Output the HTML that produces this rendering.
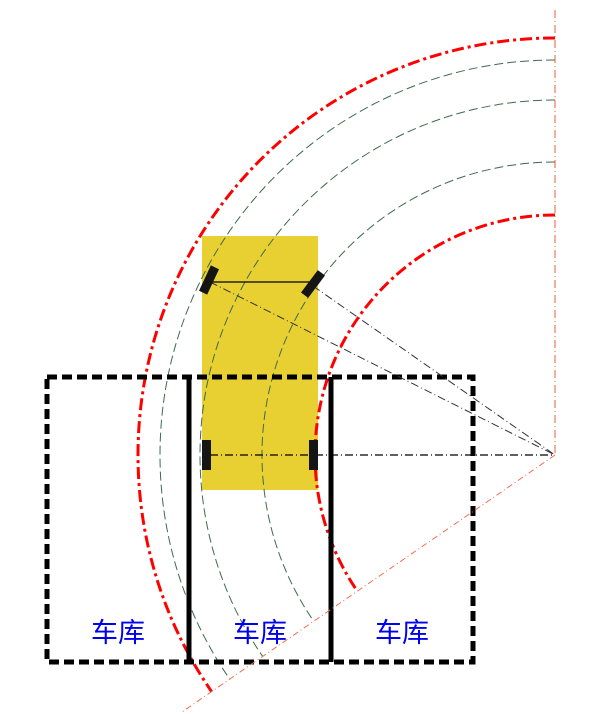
<!DOCTYPE html>
<html><head><meta charset="utf-8"><style>
html,body{margin:0;padding:0;background:#fff;width:593px;height:714px;overflow:hidden}
svg{display:block}
text{font-family:"Liberation Sans","Noto Sans CJK SC",sans-serif}
</style></head><body>
<svg id="chart" width="593" height="714" viewBox="0 0 593 714" xmlns="http://www.w3.org/2000/svg">
<rect x="0" y="0" width="593" height="714" fill="#fff"/>
<rect x="202" y="236" width="116" height="254" fill="#e8d033"/>
<g id="arcs"></g>
<line x1="555" y1="10" x2="555" y2="455" stroke="#e8603a" stroke-width="1" stroke-dasharray="8,3,1,3"/>
<g stroke="#000" stroke-width="5" fill="none">
<rect x="47" y="377" width="426" height="285" stroke-dasharray="10,5"/>
<line x1="189" y1="377" x2="189" y2="662"/>
<line x1="331" y1="377" x2="331" y2="662"/>
</g>
<line x1="210" y1="282" x2="311" y2="282" stroke="#000" stroke-width="1.2"/>
<line x1="210" y1="282" x2="555" y2="455" stroke="#333" stroke-width="1" stroke-dasharray="8,3,1,3"/>
<line x1="313" y1="286" x2="555" y2="455" stroke="#333" stroke-width="1" stroke-dasharray="8,3,1,3"/>
<line x1="210" y1="455" x2="555" y2="455" stroke="#000" stroke-width="1.2" stroke-dasharray="8,3,1,3"/>
<rect x="-4.5" y="-14" width="9" height="28" fill="#151515" transform="translate(209,280) rotate(25)"/>
<rect x="-4.5" y="-14" width="9" height="28" fill="#151515" transform="translate(313,284) rotate(37)"/>
<rect x="202" y="440" width="9" height="30" fill="#151515"/>
<rect x="309" y="440" width="9" height="30" fill="#151515"/>
<line x1="555" y1="455" x2="182" y2="712" stroke="#f07050" stroke-width="1" stroke-dasharray="6,3,1,3"/>
<text x="118" y="642" font-size="27" fill="#0000ee" text-anchor="middle">车库</text>
<text x="260" y="642" font-size="27" fill="#0000ee" text-anchor="middle">车库</text>
<text x="402" y="642" font-size="27" fill="#0000ee" text-anchor="middle">车库</text>
</svg>
<script>
const redRadii = [417, 240];
const greenRadii = [395, 355, 293];
const cx = 555, cy = 455;
const dir = [-373, 257];
const len = Math.hypot(dir[0], dir[1]);
const ux = dir[0] / len, uy = dir[1] / len;
const g = document.getElementById('arcs');
function arcPath(r) {
  return 'M' + cx + ',' + (cy - r) + ' A' + r + ',' + r + ' 0 0 0 ' + (cx + r * ux) + ',' + (cy + r * uy);
}
greenRadii.forEach(function (r, i) {
  const p = document.createElementNS('http://www.w3.org/2000/svg', 'path');
  p.setAttribute('d', arcPath(r));
  p.setAttribute('fill', 'none');
  p.setAttribute('stroke', '#3d6b4c');
  p.setAttribute('stroke-width', '1');
  p.setAttribute('stroke-dasharray', '9,4');
  
  
  g.appendChild(p);
});
redRadii.forEach(function (r, i) {
  const p = document.createElementNS('http://www.w3.org/2000/svg', 'path');
  p.setAttribute('d', arcPath(r));
  p.setAttribute('fill', 'none');
  p.setAttribute('stroke', '#ff0000');
  p.setAttribute('stroke-width', '3');
  p.setAttribute('stroke-dasharray', '12,4,3,4');
  
  
  g.appendChild(p);
});
</script>
</body></html>
